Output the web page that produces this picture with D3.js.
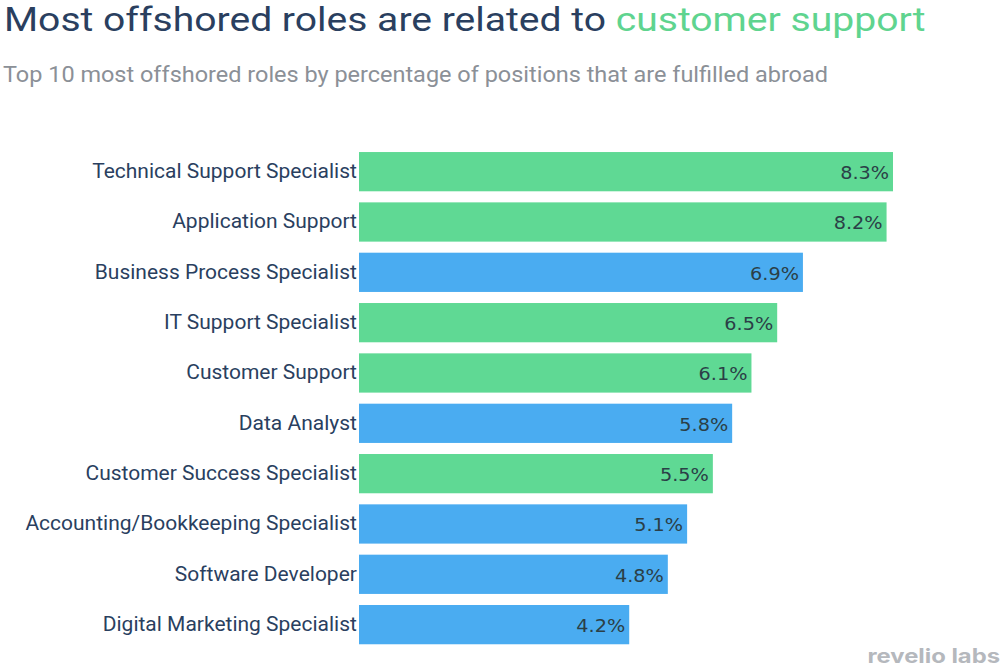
<!DOCTYPE html>
<html><head><meta charset="utf-8">
<script src="https://cdn.jsdelivr.net/npm/d3@7"></script>
<style>body{margin:0;background:#fff}</style>
</head><body>
<svg id="c" width="1003" height="667"></svg>
<script>
const roles = ["Technical Support Specialist","Application Support","Business Process Specialist","IT Support Specialist","Customer Support","Data Analyst","Customer Success Specialist","Accounting/Bookkeeping Specialist","Software Developer","Digital Marketing Specialist"];
const values = [8.3, 8.2, 6.9, 6.5, 6.1, 5.8, 5.5, 5.1, 4.8, 4.2];
const groups = ["support","support","other","support","support","other","support","other","other","other"];

const colors = {support:"#5fd994", other:"#4aacf1"};
const svg = d3.select("#c");
const navy = "#2a3f5f";
const F = "Roboto";

const title = svg.append("text").attr("transform","translate(4,31) scale(1.15,1)")
  .style("font-family",F).style("font-size","34px").attr("fill",navy);
title.append("tspan").text("Most offshored roles are related to ");
title.append("tspan").attr("fill","#5fd48f").text("customer support");

svg.append("text").attr("transform","translate(3,82) scale(1.067,1)").style("font-family",F).style("font-size","22px")
  .attr("fill","#8b9097").text("Top 10 most offshored roles by percentage of positions that are fulfilled abroad");

const x = d3.scaleLinear().domain([0,8.3]).range([359,893]);
const y = d3.scaleBand().domain(roles).range([146.5,649.8]).paddingInner(0.22).paddingOuter(0.11);

const data = roles.map((r,i)=>({role:r,value:values[i],group:groups[i]}));

svg.selectAll("rect.bar").data(data).join("rect").attr("class","bar")
  .attr("x",x(0)).attr("y",d=>y(d.role)).attr("width",d=>x(d.value)-x(0)).attr("height",y.bandwidth())
  .attr("fill",d=>colors[d.group]);

const yAxis = svg.append("g").attr("transform",`translate(${x(0)},0)`).call(d3.axisLeft(y).tickSize(0).tickPadding(2));
yAxis.select(".domain").remove();
yAxis.selectAll("text").style("font-family",F).style("font-size","20px").attr("fill",navy)
  .attr("transform","scale(1.05,1)");

svg.selectAll("text.val").data(data).join("text").attr("class","val")
  .attr("transform",d=>`translate(${x(d.value)-4},${y(d.role)+y.bandwidth()/2}) scale(1.1,1)`).attr("dy","0.42em")
  .attr("text-anchor","end").style("font-family","DejaVu Sans").style("font-size","17.5px").attr("fill","#2b3f47")
  .text(d=>d.value.toFixed(1)+"%");

svg.append("text").attr("transform","translate(1000,663) scale(1.19,1)").attr("text-anchor","end")
  .style("font-family","Inter").style("font-weight","bold").style("font-size","20px").attr("fill","#b5b8bd")
  .text("revelio labs");
</script>
</body></html>
